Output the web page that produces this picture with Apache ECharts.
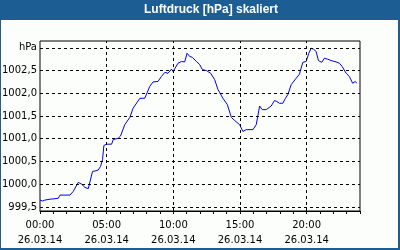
<!DOCTYPE html>
<html><head><meta charset="utf-8">
<script src="https://cdn.jsdelivr.net/npm/echarts@6/dist/echarts.min.js"></script>
<style>html,body{margin:0;padding:0;background:#fcfefc}#c{width:400px;height:250px}</style>
</head><body><div id="c"></div>
<script>
var titleText = 'Luftdruck [hPa] skaliert';
var dateLabel = '26.03.14';
var hours = [0.00,0.20,0.37,0.50,0.75,0.88,1.12,1.37,1.50,2.25,2.49,2.87,3.12,3.37,3.62,3.74,3.94,4.12,4.36,4.54,4.69,4.79,4.99,5.37,5.49,5.86,6.04,6.36,6.74,6.98,7.49,7.86,8.23,8.48,8.85,9.11,9.36,9.60,9.86,9.98,10.35,10.61,10.85,11.03,11.23,11.43,11.73,11.98,12.18,12.48,12.80,13.10,13.35,13.72,14.05,14.35,14.60,14.97,15.22,15.47,15.97,16.22,16.47,16.67,16.97,17.09,17.34,17.59,17.76,17.96,18.21,18.41,18.59,18.84,19.21,19.46,19.71,19.96,20.16,20.34,20.51,20.71,20.88,21.13,21.33,21.58,21.83,22.21,22.46,22.66,22.96,23.20,23.45,23.65,23.75];
var pressure = [999.65,999.63,999.65,999.63,999.67,999.64,999.68,999.69,999.76,999.76,999.84,1000.04,1000.00,999.93,999.90,999.93,1000.28,1000.29,1000.31,1000.39,1000.54,1000.85,1000.88,1000.88,1000.98,1001.01,1001.06,1001.31,1001.47,1001.67,1001.89,1001.89,1002.15,1002.25,1002.26,1002.37,1002.46,1002.44,1002.53,1002.48,1002.66,1002.70,1002.69,1002.88,1002.81,1002.79,1002.70,1002.63,1002.52,1002.50,1002.44,1002.30,1002.08,1001.89,1001.75,1001.47,1001.40,1001.31,1001.16,1001.20,1001.20,1001.31,1001.72,1001.64,1001.64,1001.61,1001.72,1001.84,1001.82,1001.78,1001.78,1001.89,1001.97,1002.19,1002.33,1002.42,1002.68,1002.70,1002.88,1002.99,1002.97,1002.92,1002.72,1002.68,1002.77,1002.75,1002.72,1002.69,1002.66,1002.59,1002.44,1002.37,1002.22,1002.26,1002.22];
var yGridValues = [999.5,1000.0,1000.5,1001.0,1001.5,1002.0,1002.5,1003.0];
var yGridLabels = ['999,5','1000,0','1000,5','1001,0','1001,5','1002,0','1002,5','hPa'];
var xGridHours = [5,10,15,20];
var xTickLabels = {0:'00:00',5:'05:00',10:'10:00',15:'15:00',20:'20:00'};

var FONT = 'DejaVu Sans';
var chart = echarts.init(document.getElementById('c'), null, {renderer:'canvas'});
var seriesData = hours.map(function(h,i){return [h, pressure[i]];});
var marks = [];
yGridValues.forEach(function(v,i){
  marks.push({yAxis:v, label:{show:true, position:'start', distance:3, formatter:yGridLabels[i], color:'#000', fontFamily:FONT, fontSize:10}});
});
xGridHours.forEach(function(h){ marks.push({xAxis:h, label:{show:false}}); });

chart.setOption({
  animation:false,
  backgroundColor:'#fcfefc',
  grid:{left:40, top:41, width:320, height:170, show:true, borderColor:'#000', borderWidth:1, backgroundColor:'transparent'},
  xAxis:{type:'value', min:0, max:24, interval:1,
    axisLine:{show:true, lineStyle:{color:'#000', width:1}},
    axisTick:{show:true, length:3, lineStyle:{color:'#000'}},
    splitLine:{show:false},
    axisLabel:{color:'#000', fontFamily:FONT, fontSize:10, lineHeight:15, margin:7,
      formatter:function(v){ return xTickLabels[v]!==undefined ? xTickLabels[v]+'\n'+dateLabel : ''; }}
  },
  yAxis:{type:'value', min:999.41, max:1003.15, axisLine:{show:false}, axisTick:{show:false}, axisLabel:{show:false}, splitLine:{show:false}},
  series:[{type:'line', data:seriesData, showSymbol:false, symbol:'none',
    lineStyle:{color:'#0000ee', width:1}, silent:true,
    markLine:{silent:true, symbol:['none','none'], animation:false,
      lineStyle:{color:'#000', type:[3,3], width:1}, label:{show:false}, data:marks}
  }],
  graphic:[
    {type:'rect', shape:{x:0,y:0,width:400,height:20}, style:{fill:'#1c5e94'}},
    {type:'rect', shape:{x:0,y:0,width:1,height:250}, style:{fill:'#1c5e94'}},
    {type:'rect', shape:{x:398,y:0,width:2,height:250}, style:{fill:'#1c5e94'}},
    {type:'rect', shape:{x:0,y:248,width:400,height:2}, style:{fill:'#1c5e94'}},
    {type:'text', x:211, y:10, style:{text:titleText, fill:'#fff', font:'bold 12px "Liberation Sans"', textAlign:'center', textVerticalAlign:'middle'}}
  ]
});
</script></body></html>
